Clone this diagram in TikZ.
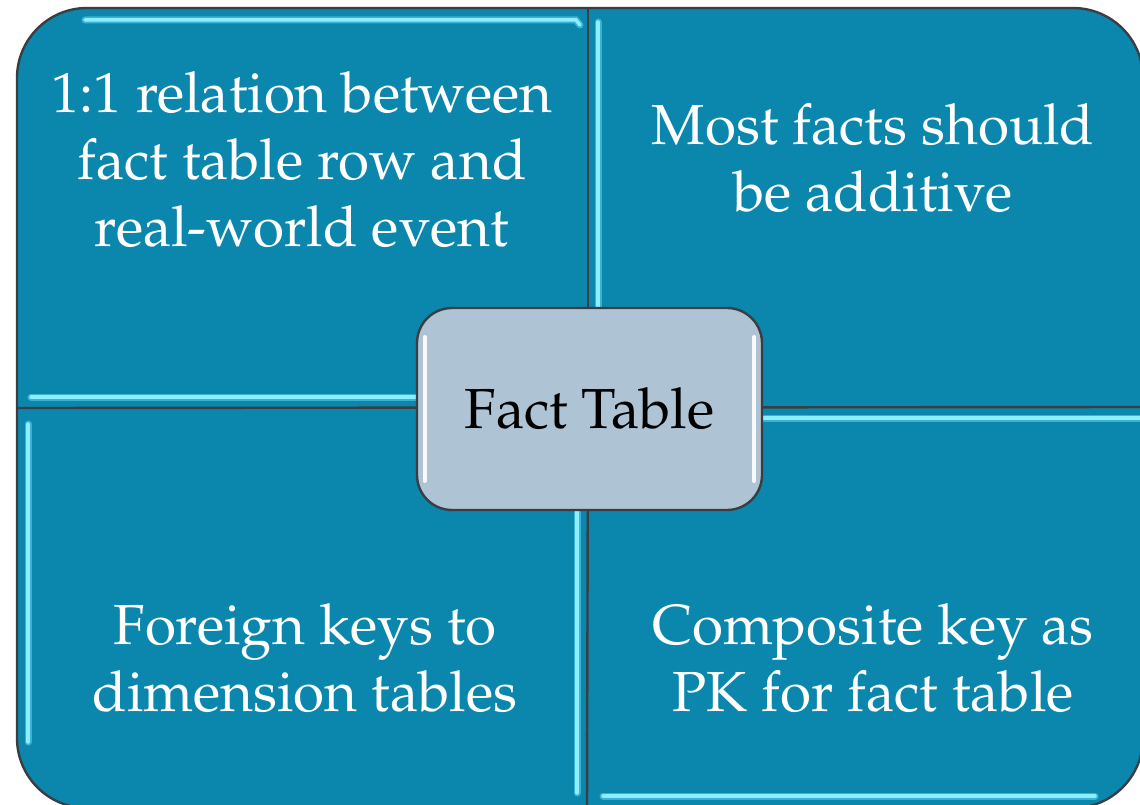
\documentclass[tikz,border=0pt]{standalone}
\usepackage[T1]{fontenc}
\usepackage{mathpazo}
\definecolor{quadfill}{RGB}{11,135,173}
\definecolor{hilite}{RGB}{100,215,242}
\definecolor{hicore}{RGB}{140,238,255}
\definecolor{edge}{RGB}{58,62,66}
\definecolor{centerfill}{RGB}{174,196,212}
\tikzset{
  quadline/.style={draw=edge, line width=2.4pt},
  glow/.style={draw=hilite, line width=7pt, line cap=round, opacity=0.55},
  glowcore/.style={draw=hicore, line width=3.5pt, line cap=round},
  qtext/.style={text=white, align=center, font=\fontsize{56.5}{67}\selectfont},
  hub/.style={draw=edge, line width=2.4pt, fill=centerfill, rounded corners=35pt,
    minimum width=345pt, minimum height=202pt, inner sep=0pt,
    font=\fontsize{56.5}{67}\selectfont, text=black},
}
\newcommand{\bevel}[1]{\draw[glow] #1; \draw[glowcore] #1;}
\begin{document}
\begin{tikzpicture}[x=1pt,y=-1pt]
\useasboundingbox (0,0) rectangle (1140,805);
\fill[white] (0,0) rectangle (1140,805);
% outer body
\path[quadline, fill=quadfill, rounded corners=70pt] (17,8) rectangle (1143,808);
% bevel highlights
\bevel{(85,20) -- (576,20) -- (580,25)}
\bevel{(31,397) -- (576,397)}
\bevel{(598,22) -- (598,398)}
\bevel{(28,424) -- (28,742)}
\bevel{(577,420) -- (577,793)}
\bevel{(599,418) -- (1142,418)}
\bevel{(603,796) -- (1095,796)}
% dividers
\coordinate (vt) at (588,8);
\coordinate (vm) at (588,408);
\coordinate (vb) at (587,808);
\coordinate (hl) at (17,408);
\coordinate (hr) at (1143,407);
\draw[quadline] (vt) -- (vm);
\draw[quadline] (vm) -- (vb);
\draw[quadline] (hl) -- (hr);
% center hub
\node[hub] (hub) at (589.5,409) {Fact Table};
\draw[white, line width=3.5pt, line cap=round, opacity=0.9] ([xshift=9pt,yshift=30pt]hub.south west) -- ([xshift=9pt,yshift=-30pt]hub.north west);
\draw[white, line width=3.5pt, line cap=round, opacity=0.9] ([xshift=-9pt,yshift=30pt]hub.south east) -- ([xshift=-9pt,yshift=-30pt]hub.north east);
% texts
\node[qtext] (tl) at (302,160) {1:1 relation between\\fact table row and\\real-world event};
\node[qtext] (tr) at (873,158) {Most facts should\\be additive};
\node[qtext] (bl) at (305,658) {Foreign keys to\\dimension tables};
\node[qtext] (br) at (873,658) {Composite key as\\PK for fact table};
\end{tikzpicture}
\end{document}
